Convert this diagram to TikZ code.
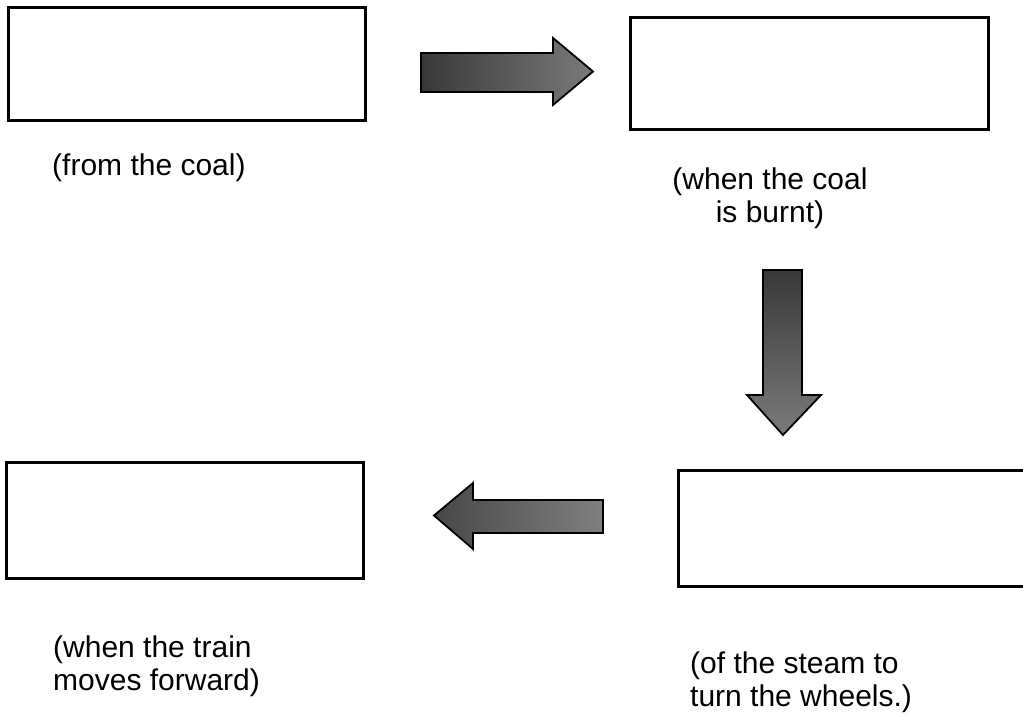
\documentclass[tikz,border=0pt]{standalone}
\usepackage{fontspec}
\setmainfont{Liberation Sans}
\begin{document}
\begin{tikzpicture}[x=1pt,y=-1pt,
  box/.style={draw=black, line width=3pt, inner sep=0pt, fill=white},
  lbl/.style={inner sep=0pt, font=\fontsize{30}{33}\selectfont},
  blockarrow/.style={draw=black, line width=1.8pt, line join=miter}]
\useasboundingbox (0,0) rectangle (1023,714);
\clip (0,0) rectangle (1023,714);
% boxes
\node[box, minimum width=357pt, minimum height=113pt] (b1) at (186.5,64.5) {};
\node[box, minimum width=358pt, minimum height=112pt] (b2) at (809,74) {};
\node[box, minimum width=357pt, minimum height=116pt] (b3) at (184.5,520.5) {};
\node[box, minimum width=360pt, minimum height=116pt] (b4) at (858,528) {};
% labels
\node[lbl, anchor=base west] (t1) at (52,176) {(from the coal)};
\node[lbl, anchor=north, align=center] (t2) at (770,168) {(when the coal\\is burnt)};
\node[lbl, anchor=north west, align=left] (t3) at (53,636) {(when the train\\moves forward)};
\node[lbl, anchor=north west, align=left] (t4) at (690,652) {(of the steam to\\turn the wheels.)};
% block arrows
\draw[blockarrow, left color=black!78, right color=black!52]
  (421,53) -- (553,53) -- (553,38) -- (593,71.5) -- (553,105) -- (553,92) -- (421,92) -- cycle;
\draw[blockarrow, top color=black!78, bottom color=black!52]
  (763,270) -- (802,270) -- (802,395) -- (821,395) -- (783,435) -- (747,395) -- (763,395) -- cycle;
\draw[blockarrow, left color=black!72, right color=black!50]
  (603,500) -- (473,500) -- (473,483) -- (434,515.5) -- (473,549) -- (473,533) -- (603,533) -- cycle;
\end{tikzpicture}
\end{document}
